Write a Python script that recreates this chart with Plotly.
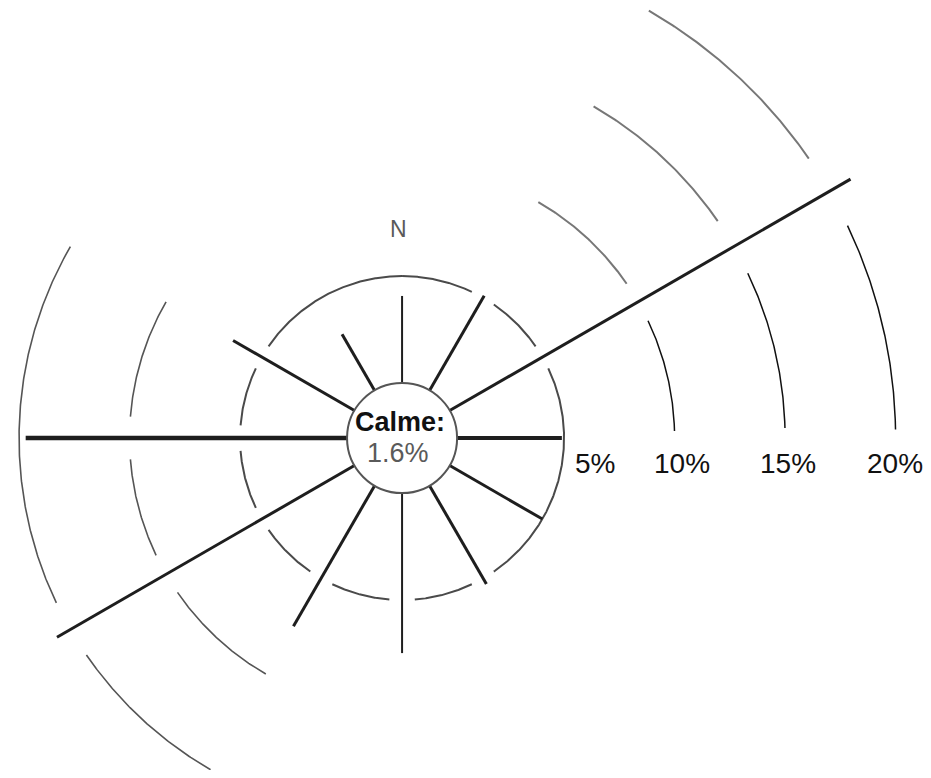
import numpy as np
import plotly.graph_objects as go

# ---------------- data ----------------
directions = [0, 30, 60, 90, 120, 150, 180, 210, 240, 270, 300, 330]   # degrees from North, clockwise
frequencies = [4.1, 5.1, 21.1, 4.9, 5.0, 5.3, 7.4, 7.5, 15.7, 14.7, 6.5, 3.1]  # %
calm_value = 1.6
ring_values = [5, 10, 15, 20]
ring_labels = ["5%", "10%", "15%", "20%"]
calm_title = "Calme:"
north_label = "N"

# ---------------- style ----------------
HOLE = 2.33          # radial offset of the 0 % origin (in % units) -> calm circle area
CALM_R = 2.49        # radius of the calm circle (in % units)
GAP = 4.5            # half gap (deg) in a ring where a longer ray crosses it
ray_widths = [2, 3, 3, 4, 3, 3, 2, 3, 3, 4.5, 3, 3]
ring_sectors = {
    5: [(0, 360, "#4a4a4a", 2)],
    10: [(30, 60, "#777777", 2), (60, 88.5, "#111111", 1.5), (210, 300, "#555555", 1.6)],
    15: [(30, 60, "#777777", 2), (60, 88.5, "#111111", 1.5), (210, 300, "#555555", 1.6)],
    20: [(30, 60, "#777777", 2), (60, 89, "#111111", 1.5)],
}
label_xshift = [31, 7, 3, -1]
FONT = "Liberation Sans"


def to_xy(r, theta_deg):
    t = np.radians(theta_deg)
    rr = HOLE + np.asarray(r, dtype=float)
    return rr * np.sin(t), rr * np.cos(t)


fig = go.Figure()

# ring arcs (with gaps where a longer ray crosses)
for ring in ring_values:
    crossing = [d for d, f in zip(directions, frequencies) if f > ring]
    for a0, a1, col, w in ring_sectors[ring]:
        th = np.arange(a0, a1 + 0.01, 0.25)
        xs, ys = [], []
        for t in th:
            near = any(min(abs(t - d) % 360, 360 - abs(t - d) % 360) < GAP for d in crossing)
            if near:
                xs.append(None); ys.append(None)
            else:
                x, y = to_xy(ring, t)
                xs.append(float(x)); ys.append(float(y))
        fig.add_trace(go.Scatter(x=xs, y=ys, mode="lines",
                                 line=dict(color=col, width=w),
                                 hoverinfo="skip", showlegend=False))

# rays
for d, f, w in zip(directions, frequencies, ray_widths):
    x, y = to_xy([0, f], [d, d])
    fig.add_trace(go.Scatter(x=x, y=y, mode="lines",
                             line=dict(color="#1e1e1e", width=w),
                             name=f"{d}°", showlegend=False,
                             hovertemplate=f"{d}°: {f}%<extra></extra>"))

# calm circle
fig.add_shape(type="circle", xref="x", yref="y",
              x0=-CALM_R, y0=-CALM_R, x1=CALM_R, y1=CALM_R,
              fillcolor="white", line=dict(color="#555555", width=2), layer="above")

annotations = [
    dict(x=0, y=0, text=f"<b>{calm_title}</b>", showarrow=False, xshift=-2, yshift=16,
         font=dict(family=FONT, size=27, color="#111111"), xanchor="center", yanchor="middle"),
    dict(x=0, y=0, text=f"{calm_value}%", showarrow=False, xshift=-4, yshift=-15,
         font=dict(family=FONT, size=27, color="#5a5a5a"), xanchor="center", yanchor="middle"),
    dict(x=0, y=9.46, text=north_label, showarrow=False, xshift=-4,
         font=dict(family=FONT, size=23, color="#5a5a5a"), xanchor="center", yanchor="middle"),
]
for ring, lab, xs in zip(ring_values, ring_labels, label_xshift):
    x, y = to_xy(ring, 90)
    annotations.append(dict(x=float(x), y=float(y), text=lab, showarrow=False,
                            xshift=xs, yshift=-25,
                            font=dict(family=FONT, size=28, color="#111111"),
                            xanchor="center", yanchor="middle"))

fig.update_layout(
    width=915, height=762,
    margin=dict(l=0, r=0, t=0, b=0),
    paper_bgcolor="white", plot_bgcolor="white",
    xaxis=dict(range=[-17.83, 23.57], visible=False, fixedrange=True),
    yaxis=dict(range=[-15.02, 19.46], visible=False, fixedrange=True),
    showlegend=False,
    annotations=annotations,
)

fig.write_html("out.html")
